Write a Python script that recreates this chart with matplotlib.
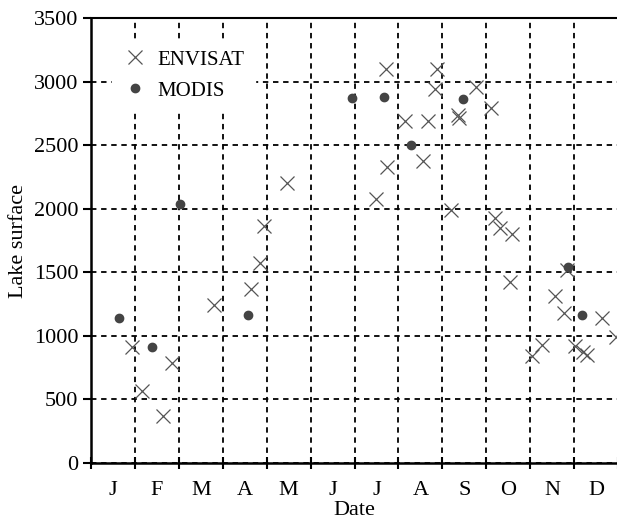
import matplotlib
matplotlib.use("Agg")
from matplotlib import pyplot as plt
import numpy as np

# month labels (tick labels placed at month centres)
months = ["J", "F", "M", "A", "M", "J", "J", "A", "S", "O", "N", "D"]

# ENVISAT: position in months since 1 Jan, lake surface
envisat_t = [0.94, 1.15, 1.63, 1.85, 2.79, 3.64, 3.85, 3.93, 4.47,
             6.49, 6.71, 6.75, 7.15, 7.57, 7.67, 7.84, 7.87, 8.19,
             8.35, 8.38, 8.77, 9.10, 9.19, 9.32, 9.58, 9.54,
             10.05, 10.27, 10.57, 10.76, 10.84, 11.03, 11.21, 11.29, 11.63, 11.96]
envisat_v = [915, 566, 371, 789, 1243, 1369, 1571, 1864, 2200,
             2074, 3096, 2326, 2692, 2375, 2692, 2939, 3099, 1990,
             2740, 2710, 2955, 2790, 1925, 1850, 1805, 1421,
             842, 928, 1313, 1177, 1518, 920, 870, 850, 1138, 989]

# MODIS
modis_t = [0.64, 1.38, 2.03, 3.57, 5.94, 6.68, 7.29, 8.47, 10.87, 11.18]
modis_v = [1138, 915, 2037, 1164, 2873, 2881, 2501, 2860, 1539, 1164]

plt.rcParams.update({
    "font.family": ["Liberation Serif", "DejaVu Serif"],
    "font.size": 16,
})

fig = plt.figure(figsize=(6.17, 5.21), dpi=100)
ax = fig.add_axes([91 / 617, 58 / 521, 527 / 617, 445 / 521])

ax.plot(envisat_t, envisat_v, linestyle="none", marker="x", markersize=10,
        markeredgewidth=0.9, color="#555555", label="ENVISAT", zorder=3)
ax.plot(modis_t, modis_v, linestyle="none", marker="o", markersize=6,
        color="#444444", label="MODIS", zorder=3)

ax.set_xlim(0, 12)
ax.set_ylim(0, 3500)

# major ticks on month boundaries, labels on month centres
ax.set_xticks(np.arange(0, 13))
ax.set_xticklabels([])
ax.set_xticks(np.arange(12) + 0.5, minor=True)
ax.set_xticklabels(months, minor=True)
ax.tick_params(axis="x", which="minor", length=0, pad=13)
ax.tick_params(axis="x", which="major", direction="inout", length=9, width=1.5)
ax.set_yticks(np.arange(0, 3501, 500))
ax.tick_params(axis="y", direction="out", length=6, width=1.5, pad=3)

ax.grid(True, which="major", color="black", linestyle=(0, (3, 2.6)), linewidth=1.3)
ax.set_axisbelow(True)

for side in ["left", "bottom"]:
    ax.spines[side].set_linewidth(1.8)
ax.spines["top"].set_linewidth(1.5)
ax.spines["right"].set_visible(False)

ax.set_xlabel("Date", labelpad=1)
ax.set_ylabel("Lake surface", labelpad=4)

leg = ax.legend(loc="upper left", bbox_to_anchor=(0.02, 0.975), frameon=True,
                facecolor="white", edgecolor="white", framealpha=1,
                handletextpad=0.5, borderpad=0.5, labelspacing=0.55,
                handlelength=1.2, fancybox=False, fontsize=15)
leg.set_zorder(5)

fig.savefig("out.png", dpi=100)
